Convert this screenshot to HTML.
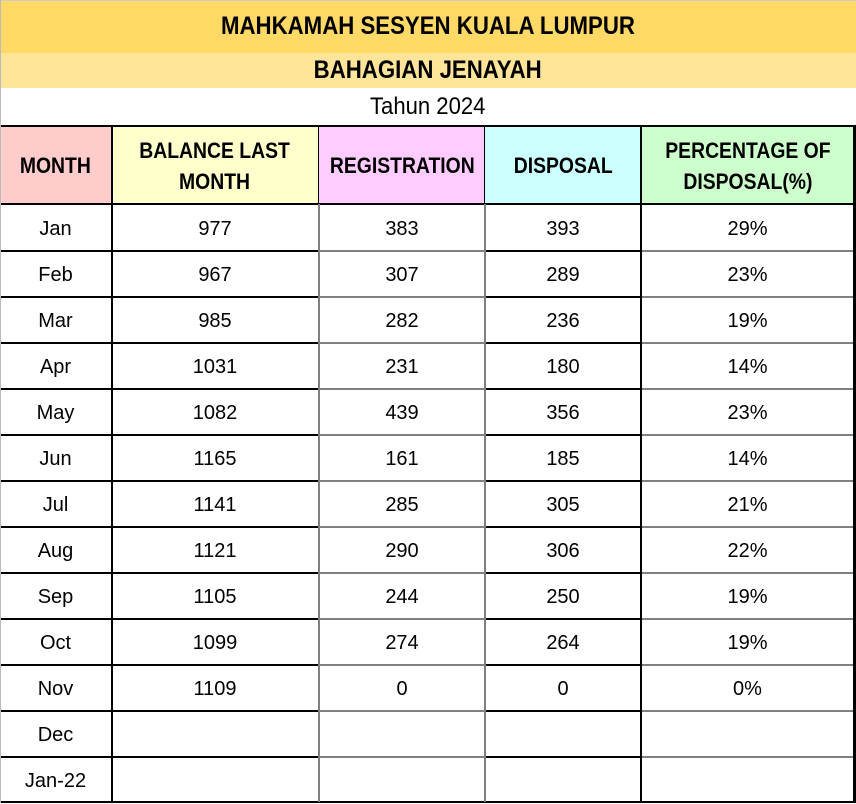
<!DOCTYPE html>
<html><head><meta charset="utf-8"><style>
body{margin:0;width:856px;height:803px;position:relative;background:#fff;font-family:"Liberation Sans",Arial,sans-serif;overflow:hidden}
.c{position:absolute;display:flex;align-items:center;justify-content:center;text-align:center;color:#000;font-size:20px}
.h{font-weight:bold;font-size:22px;line-height:31px}
.h span{display:inline-block;transform:scaleX(0.88)}
.t span{display:inline-block;transform:scaleX(0.9)}
.l{position:absolute;background:#000}
.g{position:absolute;background:#808080}
</style></head><body>
<div class="c t" style="left:0;top:0;width:856px;height:53px;background:#ffd966;border-top:1px solid #ccc;box-sizing:border-box;font-weight:bold;font-size:24.7px"><span>MAHKAMAH SESYEN KUALA LUMPUR</span></div>
<div class="c t" style="left:0;top:53px;width:856px;height:35px;background:#ffe599;font-weight:bold;font-size:24.7px"><span>BAHAGIAN JENAYAH</span></div>
<div class="c" style="left:0;top:88px;width:856px;height:38px;font-size:24px"><span style="display:inline-block;transform:scaleX(0.92)">Tahun 2024</span></div>
<div class="c h" style="left:0;top:127px;width:111px;height:77px;background:#ffcccc"><span>MONTH</span></div>
<div class="c h" style="left:111px;top:127px;width:208px;height:77px;background:#ffffcc"><span>BALANCE LAST<br>MONTH</span></div>
<div class="c h" style="left:319px;top:127px;width:166px;height:77px;background:#ffccff"><span>REGISTRATION</span></div>
<div class="c h" style="left:485px;top:127px;width:156px;height:77px;background:#ccffff"><span>DISPOSAL</span></div>
<div class="c h" style="left:641px;top:127px;width:213px;height:77px;background:#ccffcc"><span>PERCENTAGE OF<br>DISPOSAL(%)</span></div>
<div id="rows"></div>
<script>
var d=[["Jan",977,383,393,"29%"],["Feb",967,307,289,"23%"],["Mar",985,282,236,"19%"],["Apr",1031,231,180,"14%"],["May",1082,439,356,"23%"],["Jun",1165,161,185,"14%"],["Jul",1141,285,305,"21%"],["Aug",1121,290,306,"22%"],["Sep",1105,244,250,"19%"],["Oct",1099,274,264,"19%"],["Nov",1109,0,0,"0%"],["Dec","","","",""],["Jan-22","","","",""]];
var xs=[0,111,319,485,641,854],h="";
d.forEach(function(r,i){var y=205+i*46;for(var j=0;j<5;j++){h+='<div class="c" style="left:'+xs[j]+'px;top:'+(y+1)+'px;width:'+(xs[j+1]-xs[j])+'px;height:46px">'+r[j]+'</div>';}
if(i>0){h+='<div class="l" style="left:0;top:'+(y-1)+'px;width:319px;height:2px"></div><div class="g" style="left:319px;top:'+(y-1)+'px;width:166px;height:2px"></div><div class="l" style="left:485px;top:'+(y-1)+'px;width:156px;height:2px"></div><div class="g" style="left:641px;top:'+(y-1)+'px;width:213px;height:2px"></div>';}});
h+='<div class="l" style="left:0;top:125px;width:856px;height:2px"></div>';
h+='<div class="l" style="left:0;top:203px;width:856px;height:2px"></div>';
h+='<div class="l" style="left:0;top:801px;width:856px;height:2px"></div>';
h+='<div class="l" style="left:111px;top:127px;width:2px;height:676px"></div>';
h+='<div class="l" style="left:318px;top:127px;width:1px;height:77px"></div><div class="g" style="left:318px;top:204px;width:2px;height:598px"></div>';
h+='<div class="l" style="left:484px;top:127px;width:1px;height:77px"></div><div class="g" style="left:484px;top:204px;width:2px;height:598px"></div>';
h+='<div class="l" style="left:640px;top:127px;width:2px;height:676px"></div>';
h+='<div class="l" style="left:853px;top:125px;width:3px;height:678px"></div>';
h+='<div class="g" style="left:0;top:0;width:1px;height:803px;background:#bbb"></div>';
document.getElementById("rows").innerHTML=h;
</script>
</body></html>
